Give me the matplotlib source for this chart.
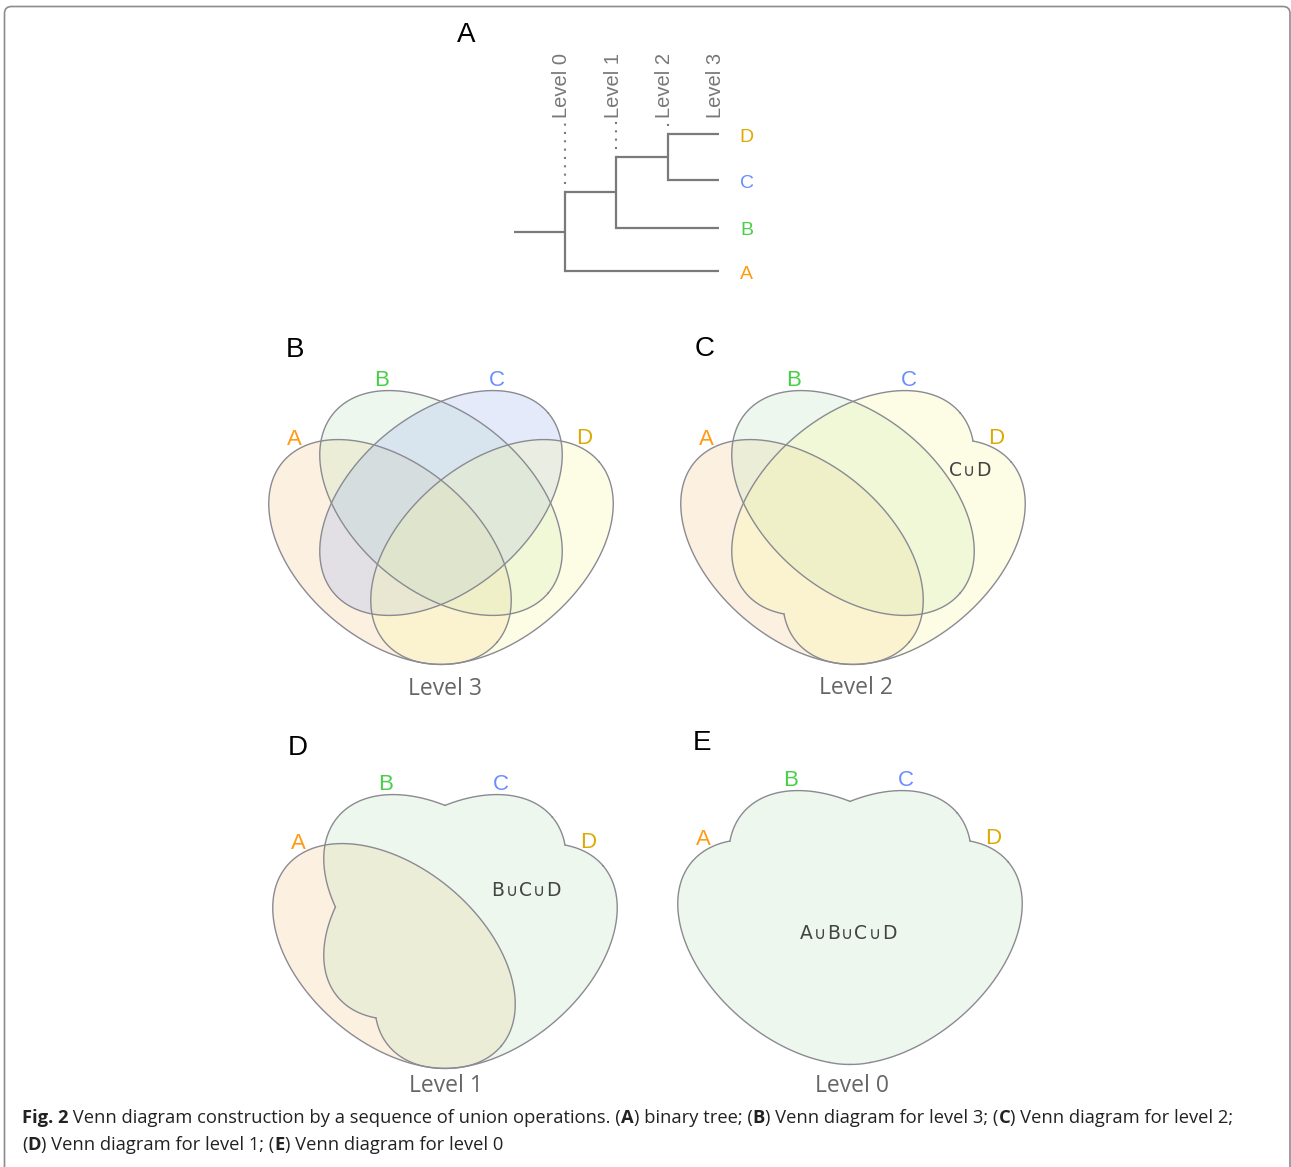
import numpy as np
import matplotlib
matplotlib.use('Agg')
import matplotlib.pyplot as plt
from matplotlib.path import Path
from matplotlib.patches import PathPatch, FancyBboxPatch

W, H = 1291, 1167
DPI = 100

# ------------------------------------------------------------------ data
set_names = ['A', 'B', 'C', 'D']
label_colors = ['#ff9a12', '#48cf48', '#6b8cff', '#dcaa00']
fill_colors = ['#f7cb8b', '#bbe3bb', '#9bafF3', '#fbfb9b']
ell_cx = [-51, 0, 0, 51]
ell_cy = [-49, 0, 0, -49]
ell_w = [280, 280, 280, 280]
ell_h = [176, 176, 176, 176]
ell_ang = [-40, -40, 40, 40]
label_dx = [-147, -59, 56, 143]
label_dy = [66, 125, 125, 67]

# tree
leaf_y = [0, 0.95, 2, 3]
merge_left = ['C', 'B', 'A']
merge_right = ['D', 'CD', 'BCD']
merge_level = [2, 1, 0]
root_level = -1
leaf_level = 3
level_names = ['Level 0', 'Level 1', 'Level 2', 'Level 3']
level_pos = [0, 1, 2, 3]

# venn panels
panel_cx = [441, 853, 445, 850]
panel_cy = [503, 503, 907, 903]
panel_groups = [[[0], [1], [2], [3]], [[0], [1], [2, 3]], [[0], [1, 2, 3]], [[0, 1, 2, 3]]]
group_fill = [[0, 1, 2, 3], [0, 1, 3], [0, 1], [1]]
panel_level = ['Level 3', 'Level 2', 'Level 1', 'Level 0']
level_dx = [4, 3, 1, 2]
level_dy = [-183, -182, -176, -180]
union_sets = [None, ['C', 'D'], ['B', 'C', 'D'], ['A', 'B', 'C', 'D']]
union_dx = [0, 117, 81, -2]
union_dy = [0, 32, 16, -31]
panel_letters = ['A', 'B', 'C', 'D', 'E']
panel_letter_x = [466, 295, 705, 298, 702]
panel_letter_y = [35, 350, 349, 748, 743]

caption_lines = [
    [("Fig. 2", 'bold'), (" Venn diagram construction by a sequence of union operations. (", 'normal'),
     ("A", 'bold'), (") binary tree; (", 'normal'), ("B", 'bold'), (") Venn diagram for level 3; (", 'normal'),
     ("C", 'bold'), (") Venn diagram for level 2;", 'normal')],
    [("(", 'normal'), ("D", 'bold'), (") Venn diagram for level 1; (", 'normal'), ("E", 'bold'),
     (") Venn diagram for level 0", 'normal')],
]

# ------------------------------------------------------------------ helpers
EDGE = '#8a8a92'
ALPHA = 0.25

fig = plt.figure(figsize=(W / DPI, H / DPI), dpi=DPI)
fig.patch.set_facecolor('white')


def px_axes(x0, x1, y0, y1):
    return fig.add_axes([x0 / W, 1 - y1 / H, (x1 - x0) / W, (y1 - y0) / H])


def ell_points(i, n=2400):
    t = np.linspace(0, 2 * np.pi, n)
    th = np.deg2rad(ell_ang[i])
    a, b = ell_w[i] / 2, ell_h[i] / 2
    x = ell_cx[i] + a * np.cos(t) * np.cos(th) - b * np.sin(t) * np.sin(th)
    y = ell_cy[i] + a * np.cos(t) * np.sin(th) + b * np.sin(t) * np.cos(th)
    return x, y


def ell_value(i, x, y):
    th = np.deg2rad(ell_ang[i])
    dx, dy = x - ell_cx[i], y - ell_cy[i]
    u = dx * np.cos(th) + dy * np.sin(th)
    v = -dx * np.sin(th) + dy * np.cos(th)
    return (u / (ell_w[i] / 2)) ** 2 + (v / (ell_h[i] / 2)) ** 2


# overlay axes in figure pixel coordinates
ov = fig.add_axes([0, 0, 1, 1])
ov.set_xlim(0, W)
ov.set_ylim(H, 0)
ov.axis('off')
ov.set_zorder(5)
ov.patch.set_alpha(0)

border = FancyBboxPatch((4.5, 6.5), 1285.5, 1190, boxstyle='round,pad=0,rounding_size=7',
                        facecolor='none', edgecolor='#8c8c8c', lw=1.2)
ov.add_patch(border)

renderer = fig.canvas.get_renderer()


def seg_width(s, **kw):
    t1 = ov.text(0, 0, '|' + s + '|', **kw)
    t2 = ov.text(0, 0, '||', **kw)
    w = t1.get_window_extent(renderer).width - t2.get_window_extent(renderer).width
    t1.remove(); t2.remove()
    return w


def draw_segments(x, y, segs, center=False, va='center', gap=0.0, **common):
    widths = [seg_width(s, **dict(common, **kw)) + gap for s, kw in segs]
    if center:
        x = x - (sum(widths) - gap) / 2
    for (s, kw), w in zip(segs, widths):
        ov.text(x, y, s, va=va, ha='left', **dict(common, **kw))
        x += w


# ------------------------------------------------------------------ tree (panel A)
tx0, tdx, ty0, tdy = 565, 51.3, 271, 45.67
axt = px_axes(tx0 - 1.5 * tdx, tx0 + 4.5 * tdx, ty0 - 5.3 * tdy, ty0 + 0.6 * tdy)
axt.set_xlim(-1.5, 4.5)
axt.set_ylim(-0.6, 5.3)
axt.axis('off')
TC = '#7a7a7a'
node_y = {n: yv for n, yv in zip(set_names, leaf_y)}
node_x = {n: leaf_level for n in set_names}
for n, yv, c in zip(set_names, leaf_y, label_colors):
    axt.text(leaf_level + 0.54, yv - 0.03, n, color=c, ha='center', va='center_baseline',
             fontsize=14, family='Liberation Sans')
for l, r, lv in zip(merge_left, merge_right, merge_level):
    yl, yr = node_y[l], node_y[r]
    axt.plot([lv, node_x[l]], [yl, yl], color=TC, lw=1.6, solid_capstyle='butt')
    axt.plot([lv, node_x[r]], [yr, yr], color=TC, lw=1.6, solid_capstyle='butt')
    axt.plot([lv, lv], [yl, yr], color=TC, lw=1.6, solid_capstyle='projecting')
    node_y[l + r] = (yl + yr) / 2
    node_x[l + r] = lv
    top = max(yl, yr)
    axt.plot([lv, lv], [top + 0.18, 3.28], color=TC, lw=1.5, ls=(0, (1, 3)))
root = merge_left[-1] + merge_right[-1]
axt.plot([root_level, node_x[root]], [node_y[root], node_y[root]], color=TC, lw=1.6,
         solid_capstyle='butt')
for name, lp in zip(level_names, level_pos):
    axt.text(lp - 0.06, 3.36, name, rotation=90, ha='center', va='bottom', fontsize=14.5,
             color='#777777', family='Liberation Sans')

# ------------------------------------------------------------------ venn panels
R = 215
for p in range(4):
    cx, cy = panel_cx[p], panel_cy[p]
    ax = px_axes(cx - R, cx + R, cy - R, cy + R)
    ax.set_xlim(-R, R)
    ax.set_ylim(-R, R)
    ax.axis('off')
    groups = panel_groups[p]
    for g, fi in zip(groups, group_fill[p]):
        verts, codes = [], []
        for i in g:
            x, y = ell_points(i, 720)
            pts = np.column_stack([x, y])
            verts.extend(pts.tolist())
            codes.extend([Path.MOVETO] + [Path.LINETO] * (len(pts) - 2) + [Path.CLOSEPOLY])
        ax.add_patch(PathPatch(Path(verts, codes), facecolor=fill_colors[fi], alpha=ALPHA,
                               edgecolor='none'))
    for g in groups:
        for i in g:
            x, y = ell_points(i)
            mask = np.zeros_like(x, dtype=bool)
            for j in g:
                if j != i:
                    mask |= ell_value(j, x, y) < 1 - 1e-9
            x = np.where(mask, np.nan, x)
            ax.plot(x, y, color=EDGE, lw=1.0)
    for n, c, dx, dy in zip(set_names, label_colors, label_dx, label_dy):
        ax.text(dx, dy, n, color=c, ha='center', va='center_baseline', fontsize=16,
                family='Liberation Sans', clip_on=False)
    ax.text(level_dx[p], level_dy[p], panel_level[p], color='#666666', ha='center',
            va='center_baseline', fontsize=16.5, family='Open Sans', clip_on=False)
    if union_sets[p]:
        segs = []
        for k, n in enumerate(union_sets[p]):
            if k > 0:
                segs.append(('\u222a', dict(fontsize=12)))
            segs.append((n, dict(fontsize=13.5)))
        draw_segments(cx + union_dx[p], cy - union_dy[p] + 5, segs, center=True, va='baseline',
                      gap=1.2, color='#444444', family='DejaVu Sans')

for L, x, y in zip(panel_letters, panel_letter_x, panel_letter_y):
    ov.text(x, y, L, ha='center', va='center', fontsize=20, color='black',
            family='Liberation Sans')

# ------------------------------------------------------------------ caption
base = 13.0
w0 = sum(seg_width(s, fontsize=base, family='Open Sans', fontweight=wt) for s, wt in caption_lines[0])
cap_fs = base * 1210 / w0
for line, yy in zip(caption_lines, [1118, 1145]):
    draw_segments(22, yy, [(s, dict(fontweight=wt)) for s, wt in line], fontsize=cap_fs,
                  family='Open Sans', color='#222222')

fig.savefig('out.png', dpi=DPI, facecolor='white')
